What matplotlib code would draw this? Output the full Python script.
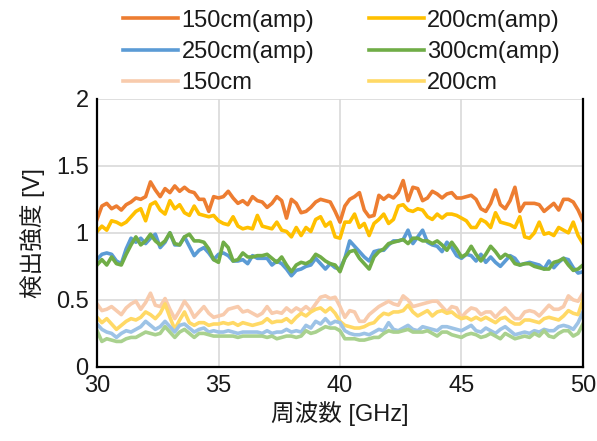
import numpy as np
import matplotlib
matplotlib.use("Agg")
import matplotlib.pyplot as plt

plt.rcParams['font.family'] = ['Liberation Sans', 'Noto Sans CJK JP', 'DejaVu Sans']

freq = np.linspace(30, 50, 101)

amp150 = [1.10,1.20,1.22,1.18,1.20,1.17,1.21,1.23,1.26,1.25,
          1.27,1.38,1.32,1.27,1.33,1.30,1.35,1.31,1.34,1.31,
          1.30,1.25,1.25,1.16,1.27,1.26,1.27,1.31,1.26,1.22,
          1.24,1.21,1.27,1.24,1.23,1.19,1.22,1.27,1.24,1.11,
          1.25,1.22,1.15,1.16,1.19,1.23,1.25,1.24,1.23,1.16,
          1.08,1.20,1.25,1.27,1.30,1.17,1.12,1.13,1.28,1.25,
          1.28,1.26,1.30,1.39,1.24,1.34,1.33,1.24,1.26,1.31,
          1.29,1.26,1.29,1.30,1.26,1.26,1.27,1.28,1.25,1.18,
          1.16,1.22,1.32,1.21,1.18,1.24,1.34,1.16,1.22,1.22,
          1.22,1.21,1.16,1.19,1.22,1.17,1.25,1.25,1.23,1.17,
          1.09]
amp200 = [1.01,1.05,1.02,1.09,1.08,1.06,1.08,1.12,1.16,1.18,
          1.09,1.21,1.23,1.17,1.14,1.24,1.18,1.21,1.15,1.13,
          1.20,1.14,1.13,1.12,1.13,1.09,1.07,1.06,1.12,1.05,
          1.03,1.04,1.03,1.13,1.05,1.04,1.03,1.08,1.02,1.01,
          0.97,1.04,0.98,1.04,1.01,1.10,1.12,1.05,1.08,0.97,
          0.96,1.08,1.08,1.14,1.04,1.07,0.98,1.07,1.10,1.14,
          1.07,1.10,1.20,1.21,1.17,1.16,1.18,1.17,1.12,1.10,
          1.14,1.11,1.14,1.14,1.13,1.11,1.09,1.04,1.04,1.10,
          1.08,1.04,1.15,1.08,1.07,1.06,1.04,1.12,0.97,0.96,
          1.00,1.08,0.99,1.00,0.98,1.04,1.02,1.00,1.08,0.98,
          0.92]
amp250 = [0.80,0.84,0.85,0.84,0.79,0.77,0.88,0.96,0.93,0.96,
          0.92,0.96,0.99,0.89,0.93,1.00,0.91,0.91,0.97,0.90,
          0.83,0.87,0.89,0.85,0.80,0.84,0.85,0.83,0.79,0.79,
          0.80,0.77,0.83,0.81,0.81,0.81,0.76,0.79,0.77,0.73,
          0.68,0.72,0.73,0.75,0.76,0.81,0.77,0.73,0.77,0.74,
          0.73,0.81,0.94,0.90,0.86,0.82,0.79,0.86,0.87,0.87,
          0.91,0.94,0.94,0.95,1.02,0.92,0.97,1.02,0.93,0.91,
          0.90,0.86,0.93,0.89,0.83,0.81,0.84,0.83,0.79,0.84,
          0.78,0.82,0.78,0.75,0.79,0.83,0.81,0.76,0.77,0.78,
          0.77,0.76,0.73,0.79,0.74,0.78,0.81,0.80,0.74,0.70,
          0.71]
amp300 = [0.76,0.80,0.76,0.82,0.77,0.76,0.84,0.91,0.97,0.91,
          0.94,0.99,0.94,0.91,0.94,1.00,0.92,0.91,0.97,0.99,
          0.94,0.94,0.93,0.88,0.80,0.78,0.93,0.89,0.79,0.80,
          0.85,0.82,0.82,0.83,0.83,0.84,0.81,0.78,0.82,0.76,
          0.71,0.76,0.78,0.77,0.79,0.84,0.82,0.79,0.77,0.76,
          0.71,0.81,0.86,0.87,0.81,0.77,0.73,0.82,0.86,0.88,
          0.92,0.93,0.94,0.95,0.92,0.96,0.96,0.94,0.94,0.92,
          0.94,0.91,0.87,0.93,0.88,0.82,0.84,0.90,0.84,0.79,
          0.84,0.90,0.86,0.81,0.84,0.82,0.77,0.76,0.77,0.77,
          0.75,0.74,0.73,0.73,0.78,0.79,0.81,0.76,0.72,0.73,
          0.76]
raw150 = [0.47,0.42,0.43,0.45,0.42,0.39,0.44,0.47,0.49,0.43,
          0.48,0.55,0.46,0.45,0.51,0.43,0.36,0.42,0.49,0.44,
          0.37,0.41,0.45,0.40,0.37,0.38,0.39,0.43,0.44,0.45,
          0.41,0.42,0.40,0.38,0.40,0.45,0.40,0.41,0.40,0.44,
          0.41,0.44,0.42,0.45,0.42,0.47,0.52,0.53,0.51,0.52,
          0.45,0.37,0.42,0.41,0.34,0.34,0.39,0.42,0.45,0.47,
          0.49,0.47,0.46,0.53,0.50,0.45,0.46,0.47,0.48,0.49,
          0.49,0.45,0.41,0.45,0.44,0.37,0.41,0.44,0.43,0.39,
          0.41,0.41,0.37,0.41,0.44,0.40,0.36,0.36,0.41,0.42,
          0.41,0.38,0.42,0.46,0.43,0.43,0.45,0.53,0.50,0.49,
          0.55]
raw200 = [0.37,0.33,0.36,0.32,0.28,0.31,0.34,0.36,0.35,0.37,
          0.41,0.39,0.36,0.40,0.47,0.37,0.28,0.35,0.41,0.33,
          0.31,0.33,0.33,0.31,0.32,0.32,0.33,0.32,0.33,0.31,
          0.33,0.32,0.31,0.32,0.33,0.36,0.33,0.34,0.34,0.36,
          0.33,0.37,0.40,0.38,0.41,0.43,0.44,0.41,0.44,0.40,
          0.34,0.31,0.30,0.29,0.29,0.30,0.32,0.33,0.37,0.40,
          0.39,0.41,0.41,0.42,0.46,0.41,0.38,0.40,0.42,0.38,
          0.41,0.42,0.40,0.41,0.38,0.36,0.37,0.35,0.37,0.35,
          0.37,0.35,0.33,0.36,0.37,0.34,0.32,0.32,0.35,0.35,
          0.34,0.33,0.36,0.37,0.36,0.35,0.38,0.42,0.40,0.39,
          0.50]
raw250 = [0.32,0.28,0.26,0.25,0.22,0.25,0.27,0.26,0.28,0.30,
          0.34,0.31,0.28,0.30,0.34,0.30,0.26,0.31,0.32,0.29,
          0.26,0.28,0.29,0.26,0.27,0.26,0.26,0.27,0.26,0.25,
          0.26,0.26,0.26,0.26,0.25,0.27,0.25,0.26,0.26,0.28,
          0.26,0.27,0.26,0.31,0.29,0.34,0.32,0.36,0.32,0.34,
          0.33,0.27,0.25,0.24,0.24,0.25,0.24,0.26,0.28,0.27,
          0.33,0.28,0.27,0.29,0.31,0.28,0.27,0.30,0.29,0.28,
          0.27,0.30,0.30,0.29,0.28,0.27,0.29,0.31,0.27,0.26,
          0.29,0.27,0.25,0.28,0.30,0.27,0.24,0.25,0.26,0.25,
          0.27,0.26,0.28,0.27,0.27,0.30,0.31,0.30,0.28,0.33,
          0.41]
raw300 = [0.27,0.19,0.21,0.20,0.19,0.19,0.21,0.22,0.22,0.24,
          0.26,0.25,0.24,0.25,0.30,0.26,0.22,0.26,0.28,0.25,
          0.22,0.25,0.25,0.24,0.23,0.23,0.23,0.23,0.23,0.22,
          0.23,0.23,0.23,0.23,0.23,0.22,0.23,0.21,0.22,0.23,
          0.23,0.22,0.23,0.27,0.25,0.26,0.28,0.30,0.29,0.29,
          0.27,0.21,0.21,0.21,0.20,0.20,0.21,0.22,0.22,0.25,
          0.27,0.26,0.26,0.27,0.28,0.26,0.26,0.26,0.27,0.25,
          0.23,0.26,0.26,0.24,0.23,0.22,0.24,0.25,0.24,0.22,
          0.23,0.25,0.23,0.21,0.25,0.23,0.21,0.22,0.23,0.22,
          0.25,0.23,0.27,0.23,0.22,0.25,0.27,0.27,0.23,0.25,
          0.32]

labels = ["150cm(amp)", "200cm(amp)", "250cm(amp)", "300cm(amp)",
          "150cm", "200cm", "250cm", "300cm"]
series = [amp150, amp200, amp250, amp300, raw150, raw200, raw250, raw300]
colors = ["#ED7D31", "#FFC000", "#5B9BD5", "#70AD47",
          "#F8CBAD", "#FFD966", "#9DC3E6", "#A9D18E"]

text_color = "#1a1a1a"
fs = 17

fig = plt.figure(figsize=(5.97, 4.41), dpi=100)
ax = fig.add_axes([0.1625, 0.168, 0.814, 0.608])

handles = []
for lab, ys, c in zip(labels, series, colors):
    h, = ax.plot(freq, ys, color=c, lw=2.6, label=lab, solid_joinstyle='round')
    handles.append(h)

ax.set_xlim(30, 50)
ax.set_ylim(0, 2)
ax.set_xticks([30, 35, 40, 45, 50])
ax.set_yticks([0, 0.5, 1, 1.5, 2])
ax.set_yticklabels(["0", "0.5", "1", "1.5", "2"])
ax.grid(True, color="#D9D9D9", lw=1.2)
ax.set_axisbelow(True)
ax.tick_params(length=0, labelsize=fs, pad=6, colors=text_color)
for s in ["left", "bottom", "right"]:
    ax.spines[s].set_color("black")
    ax.spines[s].set_linewidth(1.6)
ax.spines["top"].set_visible(False)

ax.set_xlabel("周波数 [GHz]", fontsize=fs, labelpad=3, color=text_color)
ax.set_ylabel("検出強度 [V]", fontsize=fs, labelpad=8, color=text_color)

order = [0, 2, 4, 1, 3, 5]
leg = fig.legend([handles[i] for i in order], [labels[i] for i in order],
                 ncol=2, loc="upper left", bbox_to_anchor=(0.175, 1.021),
                 frameon=False, fontsize=fs, handlelength=2.33, handletextpad=0.13,
                 columnspacing=2.33, labelspacing=0.39, borderpad=0.3)
for t in leg.get_texts():
    t.set_color(text_color)

fig.savefig("out.png", dpi=100)
